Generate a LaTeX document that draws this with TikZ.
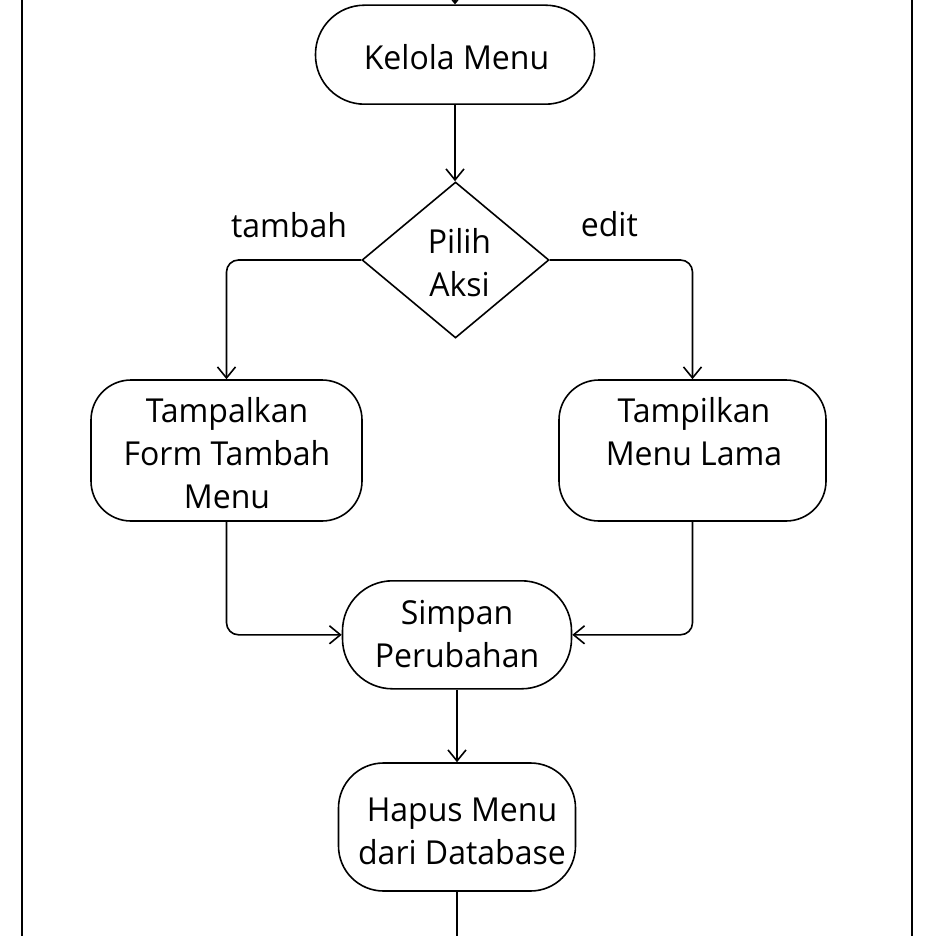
\documentclass[tikz,border=0pt]{standalone}
\usepackage{fontspec}
\setmainfont{Open Sans}[FakeStretch=0.97]
\usetikzlibrary{arrows.meta,shapes.geometric}
\begin{document}
\begin{tikzpicture}[x=1pt,y=-1pt,
  every node/.style={font=\fontsize{33}{43}\selectfont},
  act/.style={draw, line width=1.6pt, inner sep=0pt},
  txt/.style={align=center, inner sep=0pt},
  arr/.style={line width=1.6pt, -{Straight Barb[length=11pt,width=18pt,line width=1.6pt]}},
  ln/.style={line width=1.6pt},
  frame/.style={line width=2pt}]
\useasboundingbox (0,0) rectangle (936,936);
\fill[white] (0,0) rectangle (936,936);
\draw[frame] (22,0) -- (22,936);
\draw[frame] (912,0) -- (912,936);

% shapes
\node[act, rounded corners=49pt, minimum width=279pt, minimum height=99pt] (kel) at (455,54.7) {};
\node[act, diamond, minimum width=187pt, minimum height=156pt] (dec) at (455.5,260) {};
\node[act, rounded corners=40pt, minimum width=271pt, minimum height=141pt] (tam) at (226.5,450.5) {};
\node[act, rounded corners=40pt, minimum width=267pt, minimum height=141pt] (tmp) at (692.5,450.5) {};
\node[act, rounded corners=50pt, minimum width=229pt, minimum height=108pt] (sim) at (457,634.8) {};
\node[act, rounded corners=45pt, minimum width=237pt, minimum height=128pt] (hap) at (457,827) {};

% texts
\node[txt] (kelt) at (456.5,57.3) {Kelola Menu};
\node[txt] (dect) at (459.5,262.6) {Pilih\\Aksi};
\node[txt] (tamt) at (227,452.8) {Tampalkan\\Form Tambah\\Menu};
\node[txt] (tmpt) at (694,431.8) {Tampilkan\\Menu Lama};
\node[txt] (simt) at (457,634.5) {Simpan\\Perubahan};
\node[txt] (hapt) at (462,831.5) {Hapus Menu\\dari Database};
\node[txt] (ltam) at (289,225.3) {tambah};
\node[txt] (ledit) at (609.3,224.5) {edit};

\coordinate (top) at (455,0);
\coordinate (bot) at (457,936);

\draw[arr] (top) -- (kel.north);
\draw[arr] (kel.south) -- (kel.south |- dec.north);
\draw[arr, rounded corners=12pt] (dec.west) -| (tam.north);
\draw[arr, rounded corners=12pt] (dec.east) -| (tmp.north);
\draw[arr, rounded corners=12pt] (tam.south) |- (sim.west);
\draw[arr, rounded corners=12pt] (tmp.south) |- (sim.east);
\draw[arr] (sim.south) -- (hap.north);
\draw[ln] (hap.south) -- (bot);
\end{tikzpicture}
\end{document}
